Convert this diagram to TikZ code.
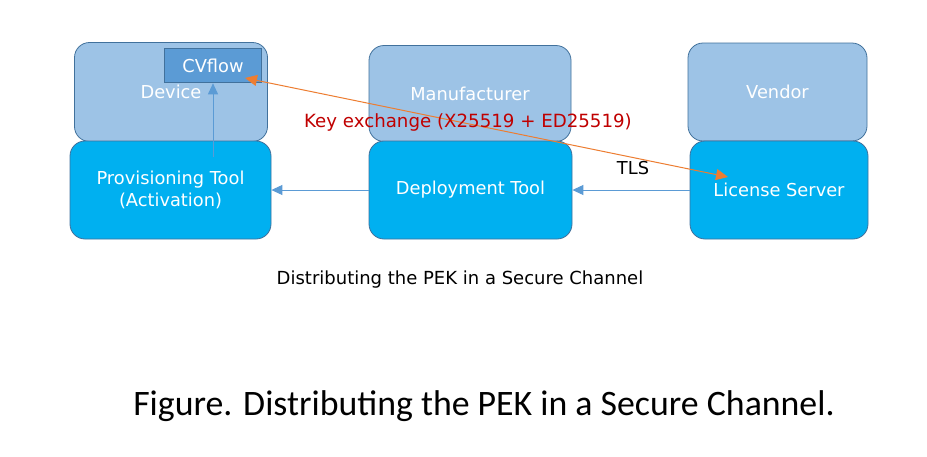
\documentclass[tikz,border=0pt]{standalone}
\usepackage{fontspec}
\setmainfont{DejaVu Sans}
\newfontfamily\capfont{Carlito}
\usetikzlibrary{arrows.meta,calc}
\definecolor{lightbox}{HTML}{9DC3E6}
\definecolor{toolbox}{HTML}{00B0F0}
\definecolor{edge}{HTML}{41719C}
\definecolor{cvfill}{HTML}{5B9BD5}
\definecolor{arrowblue}{HTML}{5B9BD5}
\definecolor{orangeline}{HTML}{ED7D31}
\definecolor{keyred}{HTML}{C00000}
\begin{document}
\begin{tikzpicture}[x=1pt,y=-1pt,
  box/.style={draw=edge,line width=0.8pt,rounded corners=15pt,text=white,
    font=\fontsize{17.8}{21.5}\selectfont,align=center,inner sep=0pt},
  party/.style={box,fill=lightbox},
  tool/.style={box,fill=toolbox},
  flow/.style={draw=arrowblue,line width=0.9pt,-{Triangle[length=11pt,width=10pt]}},
  keyx/.style={draw=orangeline,line width=1pt,{Triangle[length=12pt,width=11pt]}-{Triangle[length=12pt,width=11pt]}}]
\useasboundingbox (0,0) rectangle (927,456);
\fill[white] (0,0) rectangle (927,456);
% parties
\node[party,minimum width=193pt,minimum height=99pt] (device) at (171,92) {Device};
\node[party,minimum width=202pt,minimum height=96pt] (manu) at (470,93.5) {Manufacturer};
\node[party,minimum width=179pt,minimum height=98pt] (vendor) at (777.5,92) {Vendor};
% tools
\node[tool,minimum width=201pt,minimum height=98pt] (prov) at (170.5,190) {Provisioning Tool\\(Activation)};
\node[tool,minimum width=203pt,minimum height=98pt] (deploy) at (470.5,190) {Deployment Tool};
\node[tool,minimum width=178pt,minimum height=98pt] (license) at (779,190) {License Server};
% CVflow
\node[draw=edge,line width=1.6pt,fill=cvfill,text=white,minimum width=97pt,minimum height=34pt,
  inner sep=0pt,font=\fontsize{17.8}{21.5}\selectfont] (cv) at (213,65.5) {CVflow};
% blue arrows
\draw[flow] (deploy.west) -- (prov.east);
\draw[flow] (license.west) -- (deploy.east);
\coordinate (provtop) at (213,157);
\draw[flow] (provtop) -- (cv.south);
% key exchange
\coordinate (kx1) at (245,78);
\coordinate (kx2) at (728,177);
\draw[keyx] (kx1) -- (kx2);
\node[text=keyred,font=\fontsize{18.2}{22}\selectfont,inner sep=0pt] (kxlabel) at (468,122.5) {Key exchange (X25519 + ED25519)};
\node[font=\fontsize{17.8}{21.5}\selectfont,inner sep=0pt] (tls) at (633,168.5) {TLS};
% captions
\node[font=\fontsize{18}{22}\selectfont,inner sep=0pt] (cap1) at (460,280) {Distributing the PEK in a Secure Channel};
\node[font=\capfont\fontsize{35.8}{42}\selectfont,inner sep=0pt] (cap2) at (484,406) {Figure. Distributing the PEK in a Secure Channel.};
\end{tikzpicture}
\end{document}
